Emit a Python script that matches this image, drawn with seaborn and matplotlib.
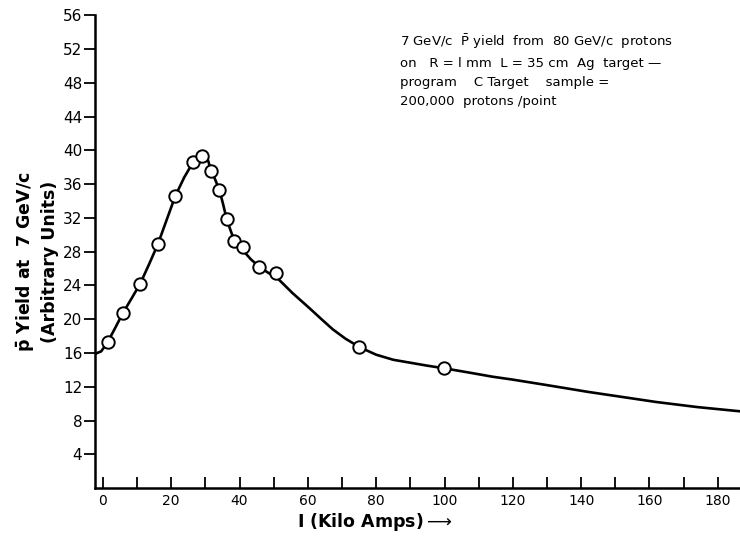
import matplotlib
matplotlib.use("Agg")
import matplotlib.pyplot as plt
import seaborn as sns
import pandas as pd

# Measured points (circles)
current_ka = [1.4, 5.8, 10.9, 16.1, 21.2, 26.4, 29.1, 31.5, 34.1, 36.2, 38.3, 40.9, 45.8, 50.8, 75.1, 99.8]
yield_au = [17.3, 20.7, 24.2, 28.9, 34.6, 38.6, 39.3, 37.6, 35.3, 31.9, 29.3, 28.5, 26.2, 25.5, 16.7, 14.2]

# Hand-drawn smooth curve
curve_x = [-2.3, -0.5, 1.4, 3.5, 5.8, 8.3, 10.9, 13.5, 16.1, 18.6, 21.2, 23.8, 26.4, 28.0, 29.5,
           30.5, 31.5, 32.8, 34.1, 35.2, 36.2, 37.3, 38.3, 39.6, 40.9, 43.3, 45.8, 48.4, 51.0,
           55.5, 60.5, 64.0, 67.3, 71.0, 75.1, 80.0, 85.0, 90.0, 95.0, 99.8, 107.0, 114.0, 120.0,
           130.0, 142.0, 152.0, 162.0, 174.0, 186.5]
curve_y = [15.9, 16.2, 17.3, 18.9, 20.7, 22.4, 24.2, 26.5, 28.9, 31.7, 34.6, 36.8, 38.6, 39.3, 39.6,
           39.2, 37.8, 36.6, 35.3, 33.6, 31.9, 30.6, 29.5, 28.7, 28.2, 27.1, 26.2, 25.5, 24.9,
           23.1, 21.3, 20.0, 18.8, 17.7, 16.7, 15.8, 15.2, 14.85, 14.5, 14.2, 13.7, 13.2, 12.85,
           12.2, 11.4, 10.8, 10.2, 9.6, 9.1]

x_major_ticks = [0, 20, 40, 60, 80, 100, 120, 140, 160, 180]
x_minor_ticks = [10, 30, 50, 70, 90, 110, 130, 150, 170]
y_ticks = [4, 8, 12, 16, 20, 24, 28, 32, 36, 40, 44, 48, 52, 56]

sns.set_style("ticks")
plt.rcParams['font.family'] = ['DejaVu Sans']
plt.rcParams['text.color'] = 'black'
plt.rcParams['axes.labelcolor'] = 'black'

fig = plt.figure(figsize=(7.4, 5.43), dpi=100)
ax = fig.add_axes([0.128, 0.101, 0.872, 0.871])

curve_df = pd.DataFrame({"I": curve_x, "Y": curve_y})
pts_df = pd.DataFrame({"I": current_ka, "Y": yield_au})

sns.lineplot(data=curve_df, x="I", y="Y", sort=False, color="black", linewidth=1.9, ax=ax, zorder=2)
sns.scatterplot(data=pts_df, x="I", y="Y", ax=ax, s=80, facecolor="white", edgecolor="black",
                linewidth=1.4, zorder=3)

ax.set_xlim(-2.4, 186.5)
ax.set_ylim(0, 56)

ax.set_xticks(x_major_ticks)
ax.set_xticks(x_minor_ticks, minor=True)
ax.set_yticks(y_ticks)
ax.set_xticklabels([str(t) for t in x_major_ticks])
ax.set_yticklabels([str(t) for t in y_ticks])

for s in ["top", "right"]:
    ax.spines[s].set_visible(False)
for s in ["left", "bottom"]:
    ax.spines[s].set_linewidth(1.8)
    ax.spines[s].set_color("black")

ax.tick_params(axis="x", which="both", direction="in", length=8, width=1.3, labelsize=10, pad=4,
               colors="black", labelcolor="black")
ax.tick_params(axis="y", which="major", direction="out", length=8, width=1.3, labelsize=11, pad=1,
               colors="black", labelcolor="black")

ax.set_xlabel("")
ax.set_ylabel("")

fig.text(37 / 740, 1 - 262 / 543, "$\\mathbf{\\bar{p}}$ Yield at  7 GeV/c\n(Arbitrary Units)",
         rotation=90, ha="center", va="center", fontsize=12.5, fontweight="bold",
         multialignment="center", linespacing=1.25, color="black")

fig.text(375 / 740, 1 - 522 / 543, "I (Kilo Amps)$\\longrightarrow$", ha="center", va="center",
         fontsize=12.5, fontweight="bold", color="black")

ax.text(400 / 740, 1 - 32 / 543,
        "7 GeV/c  $\\bar{\\mathrm{P}}$ yield  from  80 GeV/c  protons\n"
        "on   R = l mm  L = 35 cm  Ag  target —\n"
        "program    C Target    sample =\n"
        "200,000  protons /point",
        transform=fig.transFigure, ha="left", va="top", fontsize=9.5, linespacing=1.6, color="black")

fig.savefig("out.png", dpi=100)
